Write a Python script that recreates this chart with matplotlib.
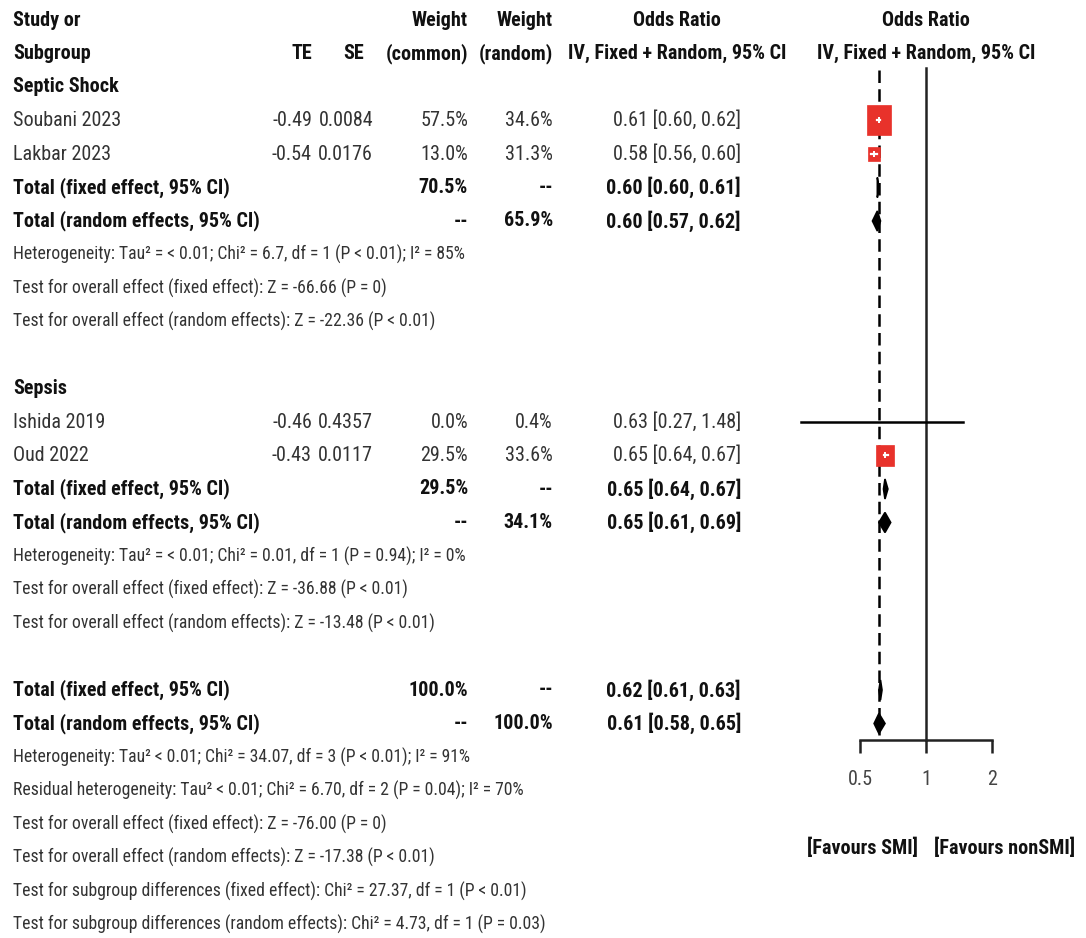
import numpy as np
import matplotlib.pyplot as plt
from matplotlib import font_manager as fm
from matplotlib.patches import Rectangle, Polygon

# the reference uses a narrow Arial-like face; take the narrowest one available
available = {(f.name, str(f.stretch)) for f in fm.fontManager.ttflist}
family, stretch = 'Liberation Sans', 'normal'
for name, st in [('Liberation Sans Narrow', 'normal'), ('Arial Narrow', 'normal'),
                 ('Roboto Condensed', 'normal'), ('Noto Sans', 'condensed'),
                 ('Open Sans', 'condensed'), ('DejaVu Sans', 'condensed')]:
    if any(n == name and (st == 'normal' or s == st) for n, s in available):
        family, stretch = name, st
        break
plt.rcParams['font.family'] = [family, 'Liberation Sans', 'DejaVu Sans']
plt.rcParams['font.stretch'] = stretch

# ---- data ----
groups = ['Septic Shock', 'Sepsis']
studies = [['Soubani 2023', 'Lakbar 2023'], ['Ishida 2019', 'Oud 2022']]
te = [[-0.49, -0.54], [-0.46, -0.43]]
se = [[0.0084, 0.0176], [0.4357, 0.0117]]
w_common = [[57.5, 13.0], [0.0, 29.5]]
w_random = [[34.6, 31.3], [0.4, 33.6]]
or_est = [[0.61, 0.58], [0.63, 0.65]]
or_lo = [[0.60, 0.56], [0.27, 0.64]]
or_hi = [[0.62, 0.60], [1.48, 0.67]]

sub_w_common = [70.5, 29.5]
sub_w_random = [65.9, 34.1]
sub_fixed = [(0.60, 0.60, 0.61), (0.65, 0.64, 0.67)]
sub_random = [(0.60, 0.57, 0.62), (0.65, 0.61, 0.69)]
tot_fixed = (0.62, 0.61, 0.63)
tot_random = (0.61, 0.58, 0.65)

sub_stats = [
    ['Heterogeneity: Tau² = < 0.01; Chi² = 6.7, df = 1 (P < 0.01); I² = 85%',
     'Test for overall effect (fixed effect): Z = -66.66 (P = 0)',
     'Test for overall effect (random effects): Z = -22.36 (P < 0.01)'],
    ['Heterogeneity: Tau² = < 0.01; Chi² = 0.01, df = 1 (P = 0.94); I² = 0%',
     'Test for overall effect (fixed effect): Z = -36.88 (P < 0.01)',
     'Test for overall effect (random effects): Z = -13.48 (P < 0.01)'],
]
tot_stats = [
    'Heterogeneity: Tau² < 0.01; Chi² = 34.07, df = 3 (P < 0.01); I² = 91%',
    'Residual heterogeneity: Tau² < 0.01; Chi² = 6.70, df = 2 (P = 0.04); I² = 70%',
    'Test for overall effect (fixed effect): Z = -76.00 (P = 0)',
    'Test for overall effect (random effects): Z = -17.38 (P < 0.01)',
    'Test for subgroup differences (fixed effect): Chi² = 27.37, df = 1 (P < 0.01)',
    'Test for subgroup differences (random effects): Chi² = 4.73, df = 1 (P = 0.03)',
]
xticks = [0.5, 1, 2]
label_left = '[Favours SMI]'
label_right = '[Favours nonSMI]'

# ---- layout (pixels) ----
W, H = 1086, 938
ROW0, ROWH = 20, 33.5
X_STUDY, X_TE, X_SE, X_WC, X_WR, X_OR, X_ORC = 13, 312, 373, 468, 553, 741, 677
X_ONE, PXD = 926, 66.0          # pixel of OR=1, pixels per doubling
C_TXT, C_BOLD, RED = '#333333', '#111111', '#e8322b'

fig = plt.figure(figsize=(W / 100, H / 100), dpi=100)
ax = fig.add_axes([0, 0, 1, 1])
ax.set_xlim(0, W)
ax.set_ylim(H, 0)
ax.axis('off')

# size the fonts so that two sample lines get the widths they have in the reference
renderer = fig.canvas.get_renderer()


def fit_size(s, width_px, bold):
    t = ax.text(0, 0, s, fontsize=20, fontweight='bold' if bold else 'normal')
    w = t.get_window_extent(renderer).width
    t.remove()
    return 20 * width_px / w


FS = fit_size('Total (fixed effect, 95% CI)', 217, True)
FS_SMALL = fit_size(sub_stats[0][0], 451, False)

FL, FR = 790, W
fx = fig.add_axes([FL / W, 0, (FR - FL) / W, 1])
fx.set_xscale('log')
fx.set_xlim(2 ** ((FL - X_ONE) / PXD), 2 ** ((FR - X_ONE) / PXD))
fx.set_ylim(H, 0)
fx.patch.set_alpha(0)


def y_of(r):
    return ROW0 + ROWH * r


def txt(x, r, s, ha='left', bold=False, size=None):
    ax.text(x, y_of(r), s, ha=ha, va='center', fontsize=size or FS,
            fontweight='bold' if bold else 'normal',
            color=C_BOLD if bold else C_TXT)


def shift(v, px):
    return v * 2 ** (px / PXD)


def diamond(r, est, lo, hi, h=10):
    y = y_of(r)
    fx.add_patch(Polygon([(lo, y), (est, y - h), (hi, y), (est, y + h)],
                         closed=True, facecolor='black', edgecolor='black',
                         lw=1.2, zorder=5))


# headers
txt(X_STUDY, 0, 'Study or', bold=True)
txt(X_STUDY, 1, 'Subgroup', bold=True)
txt(X_TE, 1, 'TE', ha='right', bold=True)
txt(X_SE - 9, 1, 'SE', ha='right', bold=True)
txt(X_WC, 0, 'Weight', ha='right', bold=True)
txt(X_WC, 1, '(common)', ha='right', bold=True)
txt(X_WR, 0, 'Weight', ha='right', bold=True)
txt(X_WR, 1, '(random)', ha='right', bold=True)
for xc in (X_ORC, X_ONE):
    txt(xc, 0, 'Odds Ratio', ha='center', bold=True)
    txt(xc, 1, 'IV, Fixed + Random, 95% CI', ha='center', bold=True)

r = 2
for g in range(len(groups)):
    txt(X_STUDY, r, groups[g], bold=True)
    r += 1
    for i in range(len(studies[g])):
        txt(X_STUDY, r, studies[g][i])
        txt(X_TE, r, f'{te[g][i]:.2f}', ha='right')
        txt(X_SE, r, f'{se[g][i]:.4f}', ha='right')
        txt(X_WC, r, f'{w_common[g][i]:.1f}%', ha='right')
        txt(X_WR, r, f'{w_random[g][i]:.1f}%', ha='right')
        txt(X_OR, r, f'{or_est[g][i]:.2f} [{or_lo[g][i]:.2f}, {or_hi[g][i]:.2f}]', ha='right')
        y = y_of(r)
        est, lo, hi = or_est[g][i], or_lo[g][i], or_hi[g][i]
        fx.plot([lo, hi], [y, y], color='black', lw=1.8, zorder=3)
        h = 30 * np.sqrt(w_common[g][i] / 57.5)
        if h > 0:
            x0, x1 = shift(est, -0.4 * h), shift(est, 0.4 * h)
            fx.add_patch(Rectangle((x0, y - h / 2), x1 - x0, h,
                                   facecolor=RED, edgecolor=RED, lw=0.5, zorder=4))
            fx.plot([max(lo, x0), min(hi, x1)], [y, y], color='white', lw=1.6, zorder=5)
            fx.plot([est], [y], marker='|', ms=5, mew=1.4, color='white', zorder=5)
        r += 1
    txt(X_STUDY, r, 'Total (fixed effect, 95% CI)', bold=True)
    txt(X_WC, r, f'{sub_w_common[g]:.1f}%', ha='right', bold=True)
    txt(X_WR, r, '--', ha='right', bold=True)
    txt(X_OR, r, '{:.2f} [{:.2f}, {:.2f}]'.format(*sub_fixed[g]), ha='right', bold=True)
    diamond(r, *sub_fixed[g])
    r += 1
    txt(X_STUDY, r, 'Total (random effects, 95% CI)', bold=True)
    txt(X_WC, r, '--', ha='right', bold=True)
    txt(X_WR, r, f'{sub_w_random[g]:.1f}%', ha='right', bold=True)
    txt(X_OR, r, '{:.2f} [{:.2f}, {:.2f}]'.format(*sub_random[g]), ha='right', bold=True)
    diamond(r, *sub_random[g])
    r += 1
    for s in sub_stats[g]:
        txt(X_STUDY, r, s, size=FS_SMALL)
        r += 1
    r += 1

txt(X_STUDY, r, 'Total (fixed effect, 95% CI)', bold=True)
txt(X_WC, r, '100.0%', ha='right', bold=True)
txt(X_WR, r, '--', ha='right', bold=True)
txt(X_OR, r, '{:.2f} [{:.2f}, {:.2f}]'.format(*tot_fixed), ha='right', bold=True)
diamond(r, *tot_fixed)
r += 1
txt(X_STUDY, r, 'Total (random effects, 95% CI)', bold=True)
txt(X_WC, r, '--', ha='right', bold=True)
txt(X_WR, r, '100.0%', ha='right', bold=True)
txt(X_OR, r, '{:.2f} [{:.2f}, {:.2f}]'.format(*tot_random), ha='right', bold=True)
diamond(r, *tot_random)
r_last = r
r += 1
for s in tot_stats:
    txt(X_STUDY, r, s, size=FS_SMALL)
    r += 1

# reference lines
y_axis = y_of(r_last) + 17
fx.plot([1, 1], [y_of(1.5) - 2, y_axis], color='#222222', lw=1.8, zorder=2)
fx.plot([tot_random[0]] * 2, [y_of(1.5), y_axis - 5], color='black', lw=1.8,
        dashes=(5, 2.5), zorder=2)

# x axis drawn with the axes' own spine
for sp in ('top', 'left', 'right'):
    fx.spines[sp].set_visible(False)
fx.spines['bottom'].set_position(('data', y_axis))
fx.spines['bottom'].set_bounds(xticks[0], xticks[-1])
fx.spines['bottom'].set_linewidth(1.8)
fx.spines['bottom'].set_color('#222222')
fx.set_yticks([])
fx.set_xticks(xticks)
fx.set_xticklabels([f'{t:g}' for t in xticks])
fx.minorticks_off()
fx.tick_params(axis='x', direction='out', length=9.5, width=1.8, color='#222222',
               labelsize=FS, labelcolor='#444444', pad=12)

yl = y_of(24.7)
ax.text(X_ONE - 8, yl, label_left, ha='right', va='center', fontsize=FS,
        fontweight='bold', color=C_BOLD)
ax.text(X_ONE + 8, yl, label_right, ha='left', va='center', fontsize=FS,
        fontweight='bold', color=C_BOLD)

fig.savefig('out.png', dpi=100)
